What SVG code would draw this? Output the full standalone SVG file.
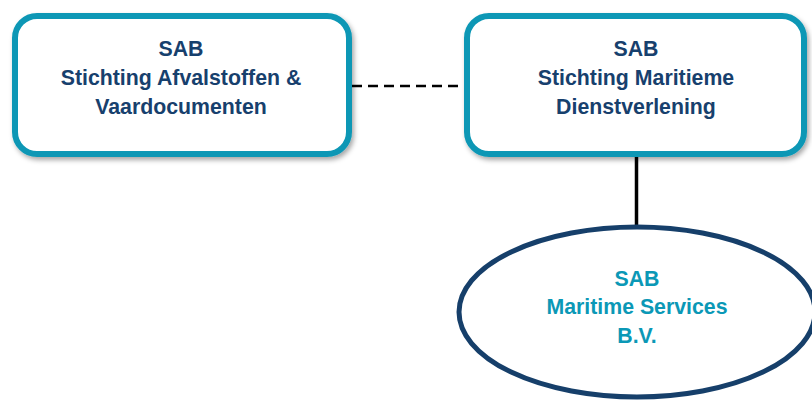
<svg xmlns="http://www.w3.org/2000/svg" width="812" height="400" viewBox="0 0 812 400">
  <defs>
    <filter id="shadow" x="-10%" y="-10%" width="125%" height="130%">
      <feDropShadow dx="2" dy="3" stdDeviation="2.5" flood-color="#000" flood-opacity="0.35"/>
    </filter>
  </defs>
  <style>
    .box { fill: #ffffff; stroke: #0a97b5; stroke-width: 6; filter: url(#shadow); }
    .oval { fill: #ffffff; stroke: #163f6a; stroke-width: 5; }
    .t { font-family: "Liberation Sans", Arial, sans-serif; font-weight: bold; font-size: 21.3px; text-anchor: middle; }
    .navy { fill: #17406d; }
    .teal { fill: #0b98b6; }
    .conn { stroke: #000000; fill: none; }
  </style>
  <rect width="812" height="400" fill="#ffffff"/>
  <g id="connectors">
    <line class="conn" x1="352" y1="86" x2="464" y2="86" stroke-width="2.5" stroke-dasharray="10,6"/>
    <line class="conn" x1="636.5" y1="157" x2="636.5" y2="226" stroke-width="3.5"/>
  </g>
  <g id="node-afvalstoffen">
    <rect class="box" x="15" y="16" width="334" height="138" rx="22" ry="22"/>
    <text class="t navy" x="181" y="56">SAB</text>
    <text class="t navy" x="181" y="85">Stichting Afvalstoffen &amp;</text>
    <text class="t navy" x="181" y="114">Vaardocumenten</text>
  </g>
  <g id="node-maritieme">
    <rect class="box" x="467" y="16" width="337" height="138" rx="22" ry="22"/>
    <text class="t navy" x="636" y="56">SAB</text>
    <text class="t navy" x="636" y="85">Stichting Maritieme</text>
    <text class="t navy" x="636" y="114">Dienstverlening</text>
  </g>
  <g id="node-services">
    <ellipse class="oval" cx="637" cy="312" rx="178" ry="85"/>
    <text class="t teal" x="637" y="286">SAB</text>
    <text class="t teal" x="637" y="314">Maritime Services</text>
    <text class="t teal" x="637" y="343">B.V.</text>
  </g>
</svg>
